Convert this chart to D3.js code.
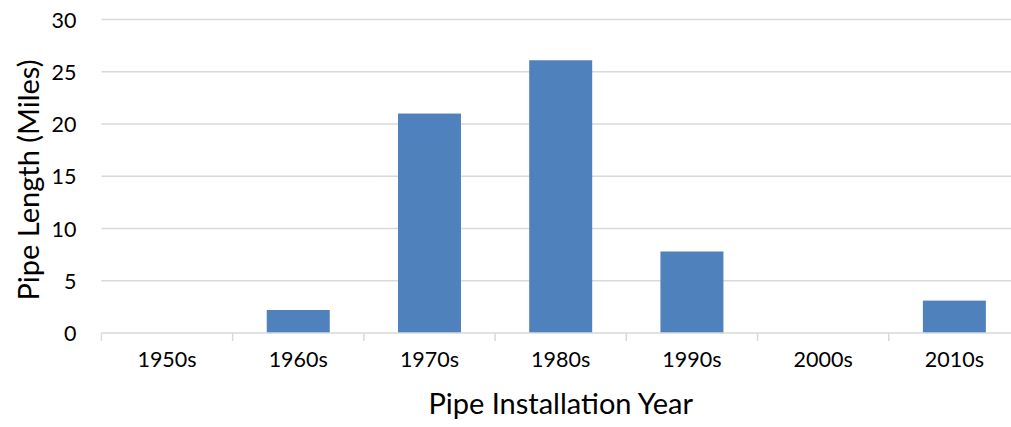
<!DOCTYPE html>
<html>
<head>
<meta charset="utf-8">
<script src="https://cdn.jsdelivr.net/npm/d3@7"></script>
<style>
  html, body { margin: 0; padding: 0; background: #fff; }
  text { font-family: Lato, "Open Sans", sans-serif; fill: #000; }
</style>
</head>
<body>
<svg id="chart" width="1011" height="427"></svg>
<script>
const categories = ["1950s", "1960s", "1970s", "1980s", "1990s", "2000s", "2010s"];
const values = [0, 2.2, 21.0, 26.1, 7.8, 0, 3.1];
const yTicks = [0, 5, 10, 15, 20, 25, 30];
const xTitle = "Pipe Installation Year";
const yTitle = "Pipe Length (Miles)";

const svg = d3.select("#chart");
const pLeft = 101.4, pRight = 1020, pTop = 19.5, pBottom = 333;

const x = d3.scaleBand().domain(categories).range([pLeft, pRight]).paddingInner(0.52).paddingOuter(0.26);
const y = d3.scaleLinear().domain([0, 30]).range([pBottom, pTop]);

// gridlines
svg.append("g").selectAll("line").data(yTicks.filter(d => d > 0)).join("line")
  .attr("x1", pLeft).attr("x2", pRight)
  .attr("y1", d => y(d)).attr("y2", d => y(d))
  .attr("stroke", "#d9d9d9").attr("stroke-width", 1.5);

// bars
svg.append("g").selectAll("rect").data(values).join("rect")
  .attr("x", (d, i) => x(categories[i]))
  .attr("width", x.bandwidth())
  .attr("y", d => y(d))
  .attr("height", d => y(0) - y(d))
  .attr("fill", "#4f81bd");

// y axis labels
const yAxis = d3.axisLeft(y).tickValues(yTicks).tickSize(0).tickPadding(0).tickFormat(d3.format("d"));
const gy = svg.append("g").attr("transform", `translate(${pLeft - 25},0)`).call(yAxis);
gy.select(".domain").remove();
gy.selectAll("text").attr("font-size", 21.5).attr("font-family", "Lato, sans-serif").attr("dy", "0.35em");

// x axis
const xEdge = d3.scaleLinear().domain([0, categories.length]).range([pLeft, pRight]);
const xAxis = d3.axisBottom(x).tickSize(0).tickPadding(0);
const gx = svg.append("g").attr("transform", `translate(0,${pBottom})`).call(xAxis);
gx.select(".domain").remove();
gx.selectAll("text").attr("font-size", 21.5).attr("font-family", "Lato, sans-serif").attr("y", 34).attr("dy", "0");
svg.append("line").attr("x1", pLeft).attr("x2", pRight).attr("y1", pBottom).attr("y2", pBottom)
  .attr("stroke", "#d9d9d9").attr("stroke-width", 1.5);
svg.append("g").selectAll("line").data(d3.range(categories.length + 1)).join("line")
  .attr("x1", d => xEdge(d)).attr("x2", d => xEdge(d))
  .attr("y1", pBottom).attr("y2", pBottom + 8)
  .attr("stroke", "#d9d9d9").attr("stroke-width", 1.5);

// titles
svg.append("text").attr("x", (pLeft + pRight) / 2).attr("y", 414)
  .attr("text-anchor", "middle").attr("font-size", 29).text(xTitle);
svg.append("text").attr("transform", `translate(39,180) rotate(-90)`)
  .attr("text-anchor", "middle").attr("font-size", 29).text(yTitle);
</script>
</body>
</html>
